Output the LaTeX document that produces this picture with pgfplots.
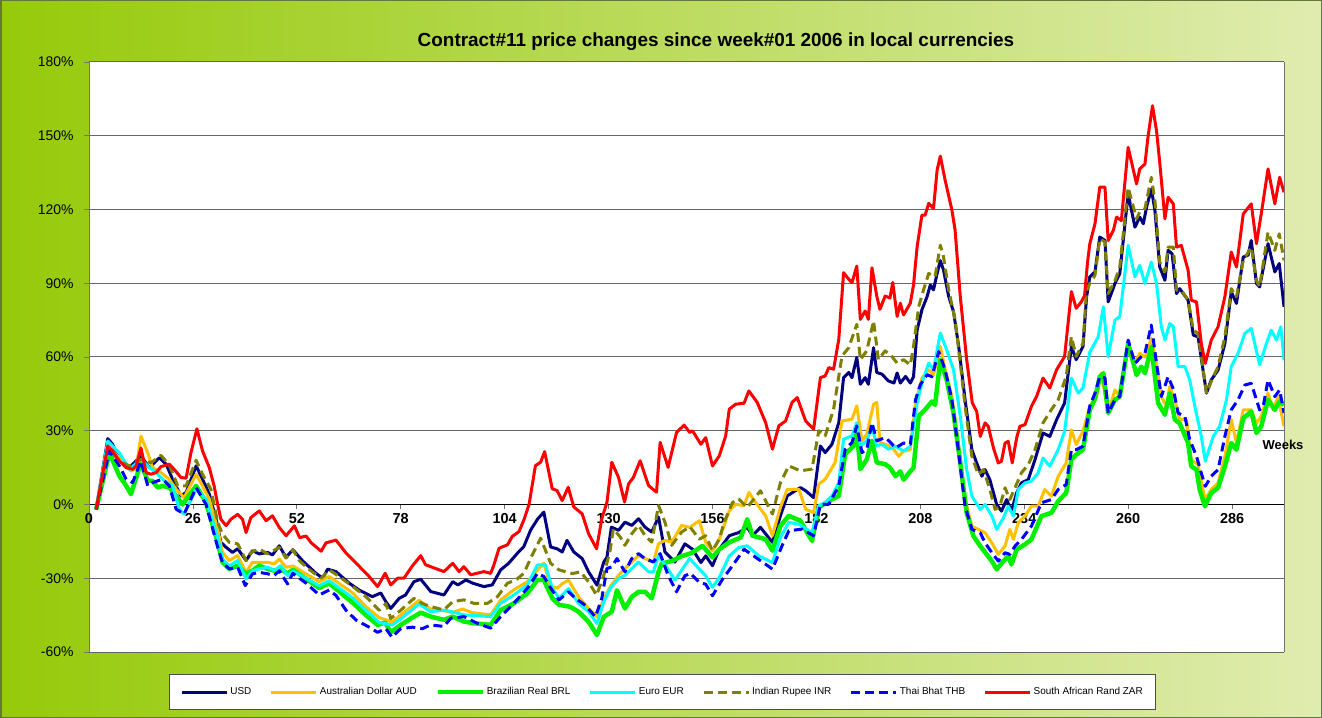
\documentclass[border=0pt]{standalone}
\usepackage{fontspec}
\setmainfont{Liberation Sans}
\usepackage{pgfplots}
\pgfplotsset{compat=1.18}
\definecolor{usd}{RGB}{0,0,128}
\definecolor{aud}{RGB}{255,192,0}
\definecolor{brl}{RGB}{0,240,0}
\definecolor{eur}{RGB}{0,255,255}
\definecolor{inr}{RGB}{128,128,0}
\definecolor{thb}{RGB}{0,0,255}
\definecolor{zar}{RGB}{255,0,0}
\definecolor{bgl}{RGB}{150,202,10}
\definecolor{bgr}{RGB}{224,236,176}
\definecolor{frame}{RGB}{100,120,60}
\begin{document}
\begin{tikzpicture}
\path[use as bounding box] (0,0) rectangle (1322bp,718bp);
\shade[left color=bgl, right color=bgr] (0,0) rectangle (1322bp,718bp);
\draw[frame, line width=1.5bp] (0.75bp,0.75bp) rectangle (1321.25bp,717.25bp);
\node[font=\bfseries\fontsize{19}{22}\selectfont] at (716bp,676bp) {Contract\#11 price changes since week\#01 2006 in local currencies};
\begin{axis}[
    at={(89bp,66bp)}, anchor=south west,
    width=1195bp, height=590bp, scale only axis,
    xmin=0, xmax=299, ymin=-60, ymax=180,
    axis x line=middle, axis y line=left,
    axis line style={-},
    x axis line style={black, line width=1.2bp},
    y axis line style={black!55, line width=1bp},
    hide obscured x ticks=false,
    xtick={0,26,...,286},
    xticklabels={0,26,52,78,104,130,156,182,208,234,260,286},
    ytick={-60,-30,...,180},
    yticklabels={-60\%,-30\%,0\%,30\%,60\%,90\%,120\%,150\%,180\%},
    xticklabel style={font=\bfseries\fontsize{14.5}{16}\selectfont},
    yticklabel style={font=\fontsize{14}{16}\selectfont, xshift=-7bp},
    xtick align=outside, ytick align=outside,
    major tick length=5bp,
    tick style={black!55, line width=0.8bp},
    ymajorgrids, grid style={draw=black!60, line width=1bp},
    axis background/.style={fill=white},
    no markers,
    every axis plot/.append style={line join=round, line width=3bp},
    legend columns=7,
    legend style={at={(0.48,-0.068)}, anchor=center, draw=black!70, line width=0.8bp,
        fill=white, font=\fontsize{10}{12}\selectfont, inner xsep=11bp, inner ysep=11bp,
        /tikz/every even column/.append style={column sep=16.5bp}},
    legend image code/.code={\draw[#1] (0bp,0bp) -- (45bp,0bp);},
]
\addplot[usd] coordinates {
(1.8,-2)(4.7,26.8)(5.9,24.5)(7.6,18.4)(10.1,15)(13,19.7)(15.1,15)(17.6,19)(19.3,16.4)(20.9,10.3)(23,3.5)(24.3,4.9)(26.8,15.7)(28.4,10.3)(30.1,4.2)(31.8,-6)(33,-15.4)(34.3,-17.4)(35.9,-19.5)(37.2,-18)(39.3,-22.8)(40.9,-18.8)(42.6,-20.1)(44.7,-19.5)(45.9,-20.5)(47.6,-16.8)(49.3,-21.5)(51,-18.4)(53.5,-23)(56.8,-28)(58.5,-30)(59.7,-26.3)(61.8,-27.3)(65.1,-32)(67.6,-34.8)(70.9,-37.5)(73,-36)(74.3,-39.6)(75.5,-42.3)(77.6,-38.2)(79.2,-36.8)(81.3,-31.4)(83,-30.4)(85.5,-35.4)(88.8,-36.8)(91,-31.4)(92.3,-32.7)(94.3,-30.7)(96,-32)(98.8,-33.4)(100.9,-32.7)(103,-26.6)(105,-23.9)(107.2,-19.8)(108.8,-17.1)(110.5,-10.4)(112.2,-6)(113.8,-3.1)(115.5,-17.3)(117.1,-18)(118.4,-19.3)(119.6,-14.6)(121.3,-19.3)(123.4,-22)(125,-27.4)(127.1,-32.8)(128.8,-23.4)(129.6,-21.4)(130.7,-9.2)(132.5,-10.5)(134.1,-7.2)(135.8,-8.5)(137.5,-5.8)(139.1,-9.2)(140.8,-11.2)(142.5,-5.1)(144.1,-19.3)(146.6,-23.4)(149.1,-16)(151,-18.2)(153.1,-23.6)(154.3,-20.9)(156,-24.9)(157.7,-18.2)(160.2,-12.7)(162.6,-11.4)(164.7,-9.3)(166,-12.7)(168,-9.3)(171,-15.4)(173,-4.6)(174.7,3.5)(178,6.9)(179.3,5.6)(181.3,2.8)(183,23.8)(184.2,21.1)(185.9,24.5)(187.6,33.3)(188.8,51.6)(190.1,53.7)(190.9,51.6)(192.1,59.8)(193,48.9)(194.2,51.6)(195,48.9)(196.3,63.8)(197.1,53.7)(198.4,53)(200,50.3)(201.4,49.4)(202.2,53.5)(203,49.4)(204.3,52.1)(205.5,49.4)(206.3,52)(207.2,71)(208.4,79.2)(209.7,84.6)(210.5,89.3)(211.3,87.3)(212.2,94)(213,99.2)(213.8,95.4)(215.1,84.6)(216.3,78.5)(217.6,64.3)(219.2,42.6)(220.9,22.3)(222.1,16.9)(223.4,11.5)(224.2,14.2)(225.4,10.1)(227.1,0)(228.3,-2.7)(229.6,2)(230.8,-2.7)(232.1,4.7)(233.3,8.8)(235,10.1)(236.7,18.3)(238.7,29.1)(240.4,27.7)(242.1,34.5)(244.1,41.3)(245.8,64.3)(247,58.9)(248.7,64.3)(249.6,84.5)(250.4,92.6)(251.7,94.6)(252.9,108.8)(254.2,107.4)(255,82.4)(256.7,89.9)(257.9,93.9)(260,126.4)(261.7,112.8)(262.9,116.9)(263.8,114.2)(264.6,120.9)(265.8,128.4)(266.7,119.6)(267.9,96.6)(269.2,91.2)(270,103.4)(271,102)(272.1,85.8)(272.9,87.8)(275,83.1)(276.3,68.9)(277.5,68.2)(279.6,45.3)(280.8,50.7)(282.5,54.7)(284.2,65.5)(285.8,86.5)(287.1,81.8)(288.8,100.7)(290,101.4)(290.8,107.4)(292.1,89.9)(292.9,88.5)(295,106.1)(296.7,94.6)(297.8,98)(299,80.4)
};
\addlegendentry{USD}
\addplot[aud] coordinates {
(1.8,-1.5)(4.7,23.8)(7.6,19)(10.5,13.6)(11.8,15)(13,27.8)(14.7,21)(15.9,15)(18,13)(20.1,10.3)(21.8,6.2)(23.8,2.8)(26.8,12.3)(28.4,7.6)(30.1,2.2)(32.2,-10)(33.4,-19.5)(35.1,-22.8)(37.2,-20.8)(39.3,-27.6)(40.9,-23.5)(42.6,-23.5)(44.7,-23.5)(46.3,-24.2)(47.6,-22.2)(49.3,-25.5)(51,-25)(57.6,-31.4)(60.1,-29.3)(66,-36)(69.3,-41.6)(72.6,-46)(75.9,-47.8)(78.4,-44.4)(82.6,-39)(85.5,-42.5)(88.4,-43)(90.9,-44)(93.4,-42.5)(95.9,-44)(100.5,-44.9)(103,-38.8)(106.3,-34.7)(109.7,-31.4)(112.2,-26.6)(113.8,-23.9)(115.5,-33.4)(117.2,-34)(118.4,-32.2)(120,-30.8)(122.5,-37.6)(125,-42.3)(127.1,-45.7)(128.8,-38.2)(130.4,-33.5)(132.5,-28.8)(134.1,-26)(135.8,-23.4)(137.5,-20.7)(139.1,-22)(141.2,-23.4)(142.5,-16)(144.1,-14.6)(145.8,-15.3)(148.3,-8.5)(150.3,-9.3)(152.7,-6.6)(154.3,-15.4)(156,-18.8)(157.7,-14.1)(160.2,-2.6)(161.8,0.1)(163.9,-0.5)(165.1,4.9)(166.8,0.8)(169.3,-4.6)(171,-12.7)(173,-1.2)(174.7,6.2)(177.6,6.2)(179.3,-1.9)(181.3,-3.3)(182.6,8.3)(184.2,10.3)(186.7,17.1)(188.4,34)(190.9,34.7)(192.1,40.1)(193.4,25.9)(194.6,28.6)(196.3,40.8)(197.1,41.5)(197.9,25.2)(200.4,23.8)(201.4,22.3)(202.6,19.6)(203.8,21.7)(205.5,22.3)(206.8,41.3)(208.4,51.4)(210.1,54.8)(211.3,52.8)(213,64.3)(214.2,54.8)(215.9,44)(217.6,23.7)(219.2,2)(220.9,-8.8)(222.5,-10.1)(224.2,-11.5)(225.9,-15.6)(227.5,-20.3)(229.2,-16.9)(230.4,-10.1)(231.3,-14.2)(232.5,-7.4)(234.2,-4.7)(235.8,-0.7)(237.5,-0.7)(239.1,6.1)(240.8,3.4)(242.5,11.5)(244.5,16.9)(245.8,30.4)(247,24.4)(248.7,29.8)(250.4,40)(252.1,43.9)(253.3,53.4)(255,37.2)(256.7,46.6)(257.9,44)(260,65.5)(261.7,57.4)(262.9,61.5)(264.2,60)(265.8,67.6)(267.1,57.4)(268.3,43.9)(269.6,39.9)(270.4,48)(271.7,42.6)(272.9,34.5)(274.6,34.5)(275.8,18.2)(277.5,16.2)(279.2,2)(280.8,6.1)(282.5,8.8)(284.2,19.6)(285.8,34.5)(287.1,25)(288.8,38.5)(290.8,38.5)(292.1,33.1)(293.3,35.8)(295,45.3)(296.3,38.5)(297.5,43.9)(299,31.8)
};
\addlegendentry{Australian Dollar AUD}
\addplot[brl, line width=4.5bp] coordinates {
(1.8,-2)(5.1,21)(7.6,11.6)(9.3,7.6)(10.5,4.2)(13,17)(14.7,9.6)(15.9,9.6)(17.2,6.9)(18.4,7.6)(20.1,6.9)(21.8,3.5)(23.4,0)(26.8,7.6)(29.3,0.8)(32.2,-15.4)(33.4,-23.5)(35.1,-26.2)(37.2,-24.9)(39.3,-28.2)(40.9,-26.9)(42.6,-24.9)(44.7,-26.2)(46.3,-26.9)(48,-26.2)(49.7,-28.2)(51,-26.5)(57.6,-34)(60.1,-32)(66,-40)(69.3,-45)(72.2,-49)(74.1,-48)(75.5,-52)(78,-49)(80.9,-46)(83,-44)(85.5,-45.6)(88.8,-46.9)(91,-45.6)(93.8,-47.6)(96.3,-48.3)(100.5,-49)(103,-42.9)(106.3,-40.2)(109.7,-36.1)(112.2,-30.7)(113.8,-30.7)(115.9,-38.1)(117.6,-40.8)(120.4,-41.6)(122.5,-43.6)(125,-47.7)(127.1,-53.1)(128.8,-45.7)(130.8,-43.6)(132.1,-34.9)(134.1,-42.3)(135.8,-37.6)(137.5,-35.5)(139.1,-35.5)(140.8,-38.2)(142.5,-27.4)(143.3,-24)(145.8,-23)(148.3,-21)(150.3,-20)(151,-19.5)(153.5,-16.8)(156,-21.5)(157.7,-18.2)(160.2,-15.4)(163.1,-13.4)(164.7,-6)(166,-12.7)(169.3,-14.1)(171,-18.8)(173,-8.7)(175.1,-4.6)(178,-6.6)(180.9,-14.8)(182.6,-1.2)(185.1,1.5)(187.6,3.5)(189.2,20.5)(191.3,23.8)(192.1,29.9)(193,14.4)(194.6,18.4)(195.9,25.9)(197.1,17.1)(199.2,16.4)(200.4,15)(201.8,11.5)(203,13.5)(203.8,10.1)(205.5,13.5)(206.3,14.9)(207.6,35.9)(209.2,38.6)(210.9,41.9)(211.7,40.5)(213,58.9)(214.6,50.7)(216.3,37.2)(218,16.9)(219.6,-3.4)(221.3,-12.9)(223,-16.9)(224.6,-20.3)(225.9,-23)(227.1,-26.4)(228.8,-23)(230,-21)(230.8,-24.4)(232.1,-18.3)(234.2,-16.2)(235.8,-14.2)(238.3,-4.7)(240.8,-3.4)(242.5,1.4)(244.5,4.7)(245.8,18.3)(247,20.3)(248.7,22.3)(250.4,38.5)(251.7,43)(252.9,52)(253.8,53.4)(255,37.2)(256.7,42.6)(257.9,43.9)(260,65.5)(262.1,52.7)(263.3,56.1)(264.2,53.4)(265.8,64.2)(267.5,41.2)(269.2,36.5)(270.4,45.3)(271.7,34.5)(272.9,33)(275,25)(275.8,15.5)(277.1,14.2)(277.9,6.1)(279.2,-0.7)(280.8,4.7)(282.5,6.8)(284.2,15.5)(285.8,25)(287.1,22.3)(288.8,35.1)(290.8,37.8)(292.1,29.1)(293.3,31.8)(295,42.6)(296.7,38.5)(297.9,41.9)(299,40.5)
};
\addlegendentry{Brazilian Real BRL}
\addplot[eur] coordinates {
(1.8,-2)(4.7,25.8)(7.6,21)(10.1,14.3)(13,18.4)(15.1,15)(16.8,13)(18.4,10.3)(20.9,7.6)(22.6,-1.9)(23.8,-3.9)(26.8,6.2)(29.3,2.2)(32.2,-13.4)(33.4,-22.2)(35.1,-24.9)(37.2,-22.8)(39.3,-30.3)(40.9,-26.9)(42.6,-26.2)(44.7,-25.5)(46.3,-26.9)(48,-24.9)(49.7,-28.9)(51,-27)(57.6,-33)(60.1,-31)(66,-38)(69.3,-43)(72.6,-48)(75.9,-49)(78.4,-46)(82.6,-40.5)(85.5,-43.6)(88.8,-43)(90.5,-43.5)(93.8,-44.9)(100.5,-45.6)(103,-40.2)(106.3,-36.8)(109.7,-32.7)(112.2,-24.6)(114.2,-24.6)(115.9,-34)(117.6,-38.1)(120,-34.2)(122.5,-40.3)(125,-43.6)(127.1,-48.4)(128.8,-39.6)(130.4,-34.2)(132.5,-30.1)(134.1,-28.8)(135.8,-26.1)(137.5,-23.4)(140,-27.4)(141.2,-27.4)(142.5,-20.7)(144.5,-25.4)(146.6,-30.8)(149.1,-24.7)(150.3,-22)(152.7,-26.3)(154.3,-29)(156,-33.7)(157.7,-29.7)(160.2,-20.9)(162.6,-17.5)(164.7,-16.8)(167.6,-20.9)(171,-23.6)(173,-13.4)(175.1,-7.3)(177.6,-8)(180.9,-11.4)(182.6,-0.5)(184.2,0.8)(185.9,3.5)(187.6,8.9)(188.8,26.6)(190.9,27.9)(192.1,33.3)(193,23.8)(194.6,25.9)(195.9,32)(197.1,23.8)(198.4,24.5)(200,22.5)(201.8,23.7)(203.8,21.7)(205.5,23.7)(207.2,41.3)(208.4,49.4)(210.1,57.5)(211.3,54.8)(213,69.7)(214.6,62.9)(216.3,54.8)(218,35.9)(219.6,14.2)(220.9,3.4)(223,-2)(224.2,0)(225.9,-4.7)(227.1,-10.1)(228.8,-5.4)(230,-0.7)(231.3,-4.7)(232.5,6.1)(234.2,8.8)(235.8,9.5)(237.5,12.9)(238.7,18.9)(240.4,15.6)(242.5,22.3)(244.1,29.8)(245.8,51.4)(247.5,45.3)(248.7,47.4)(250.4,62)(251.2,64.2)(252.5,68.2)(253.8,80.4)(255,60.1)(256.7,75)(257.9,76.4)(260,105.4)(261.7,92.6)(262.9,97.3)(264.2,89.9)(265.8,98.6)(267.1,89.9)(268.3,72.3)(269.2,66.9)(270.4,73.6)(271.3,72.3)(272.5,56.1)(274.2,56.1)(275.4,50.7)(276.7,39.9)(278.3,27.7)(279.3,17.6)(281.3,27.7)(282.9,31.8)(284.6,42.6)(285.8,56.1)(287.5,61.5)(289.2,69.6)(290.8,71.6)(292.9,56.8)(294.6,65.5)(295.8,70.9)(297.1,66.9)(298.2,72.3)(299,58.8)
};
\addlegendentry{Euro EUR}
\addplot[inr, dash pattern=on 9bp off 5bp] coordinates {
(1.8,-2)(4.7,23)(7.6,17.7)(10.1,15.7)(13,18.4)(15.5,17)(18,20)(20.1,16)(22.2,7.6)(24.3,7.6)(26.8,18)(28.4,12.3)(30.5,6.2)(32.2,-7.3)(33.4,-12)(35.1,-15.4)(37.2,-16)(39.3,-22.8)(40.5,-19.5)(42.6,-18.1)(44.7,-20.1)(45.9,-19)(47.6,-17.4)(49.3,-21.8)(51,-18.4)(52.7,-23)(55.2,-26.6)(58.1,-30)(60.1,-26.6)(62.6,-29.3)(66,-33.4)(69.3,-37.5)(72.6,-43)(74.3,-40.3)(75.5,-46.4)(78,-43)(81.3,-38.2)(83.4,-40.3)(85.5,-41.5)(88.8,-42.9)(91,-39.5)(93.8,-38.8)(96.3,-40.2)(99.7,-40.2)(102.2,-37.5)(104.7,-32)(106.8,-30.7)(108.8,-28)(110.5,-21.9)(113,-13.7)(115.5,-23.9)(117.6,-26.6)(120.9,-28.1)(123,-27.4)(125,-31.5)(127,-36.9)(128.8,-28.8)(130.4,-18.6)(131.2,-9.9)(132.9,-13.2)(134.1,-16.6)(135.8,-11.9)(137.5,-8.5)(139.1,-12.6)(140.8,-15.3)(142.5,-0.4)(144.1,-7.2)(145.8,-16.6)(148.3,-11.2)(150.3,-9)(152.7,-14.1)(154.3,-12.7)(156,-18.8)(157.7,-14.1)(158.9,-7.3)(161,0.8)(162.6,2.2)(164.7,-1.2)(168,5.6)(171,-3.9)(173,8.9)(175.1,15.7)(178,13.7)(180.9,14.4)(182.6,30)(184.2,27.9)(186.3,38.8)(188.4,60.4)(190.1,63.8)(192.1,73.3)(193,59)(194.6,62.5)(196.3,74.7)(197.5,59)(199.2,62.5)(200.9,60.2)(202.2,57.5)(203.8,58.9)(205.5,56.8)(206.3,64.3)(207.6,80.5)(208.8,87.3)(210.1,94)(211.7,92.7)(213,105.5)(213.8,100.8)(215.1,87.3)(216.7,75.1)(218,57.5)(219.2,39.9)(220.9,19.6)(222.5,12.2)(223.8,14.2)(225.4,6.1)(226.7,-2)(227.9,-0.7)(229.2,6.8)(230.4,2)(231.7,6.8)(233.3,12.9)(235,16.2)(236.7,22.3)(238.7,33.2)(240.8,38.6)(242.5,42.6)(244.5,52.1)(245.8,68.3)(247,60.2)(248.7,65.6)(249.6,87)(250.4,89.9)(251.7,93.2)(252.9,108.1)(254.2,106.8)(255,85.8)(256.7,91)(257.9,96.6)(260,129)(262.1,116.2)(262.9,119)(264.2,120.3)(265.8,133.1)(266.7,123.6)(267.9,98.6)(269.2,94.6)(270,104.7)(271.3,104.7)(272.1,87.2)(273.3,87.2)(275,83.1)(276.3,70.9)(277.5,69.6)(279.6,45.3)(281.3,52)(282.5,56.1)(284.2,68.2)(285.8,87.8)(287.1,84.5)(288.8,99.3)(290.8,104.7)(292.1,91.2)(292.9,88.5)(295,110.8)(296.7,103.4)(297.8,110.1)(299,99.3)
};
\addlegendentry{Indian Rupee INR}
\addplot[thb, dash pattern=on 9bp off 5bp] coordinates {
(1.8,-2)(5.1,21.8)(7.6,15.7)(9.3,10.3)(10.9,8.9)(13,17.7)(14.7,7.6)(15.9,8.9)(18.4,10.3)(20.1,7.6)(21.8,-1.9)(23.8,-3.9)(26.8,6.9)(29.3,0)(32.2,-17.4)(33.4,-23.5)(35.1,-26.2)(37.2,-25.5)(39.1,-33)(40.9,-28.2)(42.6,-27.6)(44.7,-28.2)(46.3,-28.9)(47.6,-27)(49.7,-32.3)(51,-28)(54.3,-32)(57.6,-36.8)(60.1,-34.8)(61.8,-37)(64.3,-43)(66.8,-47)(70.1,-49.9)(72.2,-52)(74.3,-50.5)(75.8,-54)(78,-50.5)(80.9,-49.9)(83.4,-50.5)(85.5,-49)(88.8,-49.6)(90.5,-46.3)(93.8,-45.6)(97.1,-48.3)(100.5,-50.3)(103,-45.6)(106.3,-40.2)(109.7,-34)(112.2,-28)(113.8,-29.3)(115.5,-34)(117.6,-38.8)(120,-35.5)(121.7,-38.2)(124.2,-41)(126.7,-45.7)(128.3,-38.2)(129.6,-26)(130.8,-25.4)(132.1,-22)(134.1,-27.4)(135.8,-22)(137.5,-20)(139.1,-22)(141.2,-23.4)(142.9,-20)(144.9,-28.8)(147,-35.5)(149.1,-29)(150.5,-28)(152.7,-31.7)(154.3,-32.4)(156,-37.1)(158.5,-30.4)(161,-24.9)(163.9,-18.2)(166.8,-21.5)(169.3,-24.3)(171,-26.3)(173.4,-16.8)(175.1,-10.7)(178.4,-10)(181.3,-12.7)(183,0.1)(185.1,0.1)(187.6,7.6)(189.2,22.5)(190.9,25.2)(192.1,32)(193.4,21.1)(194.6,22.5)(195.9,33.3)(197.1,25.9)(199.2,27.2)(200.4,25.5)(201.8,23)(203.8,25)(205.5,24.5)(206.8,42.6)(208,48.7)(209.7,52.8)(210.9,52)(212.6,62.2)(214.2,54.8)(215.9,42.6)(217.6,21)(219.2,-0.7)(220.9,-10.1)(223,-11.5)(224.2,-15.6)(225.9,-19.6)(227.5,-23)(229.2,-19.6)(230.4,-20.3)(231.7,-16.9)(233.3,-14.2)(235.8,-8.8)(238.3,0.7)(240.8,2)(242.5,6.1)(244.5,8.1)(245.8,22.3)(247,22.3)(248.7,23.7)(250.4,40)(251.7,45.3)(252.9,52)(254.2,51.5)(255,37.2)(256.7,42.6)(257.9,44)(260,66.9)(261.7,57.4)(262.9,59.5)(264.2,61.5)(265.8,73)(267.1,57.4)(268.3,43.9)(270,52)(271.3,47)(272.5,37.2)(274.2,35.8)(275.4,26.4)(277.1,19.6)(278.3,12.8)(279.3,7.4)(280.8,11.5)(282.5,14.2)(284.2,27.7)(285.8,38.5)(287.5,42.6)(289.2,48.6)(290.8,49.3)(292.9,38.5)(293.8,40)(295,50.7)(296.7,43.9)(297.9,46.6)(299,37.2)
};
\addlegendentry{Thai Bhat THB}
\addplot[zar] coordinates {
(1.8,-2)(4.7,23.8)(5.9,21.8)(7.6,17.7)(9.3,15)(10.9,14.3)(11.8,15.7)(13,23)(14.3,13)(15.5,12.3)(16.8,13)(18,15.4)(20.1,16.4)(21.3,14.3)(23,11)(24.3,10.7)(25.5,21)(27,30.8)(28.4,21.8)(30.1,15)(31.3,7.6)(32.2,0)(33,-6)(34.3,-8.6)(35.5,-6)(37.2,-4)(38.4,-6)(39.3,-11.4)(40.5,-5.3)(42.6,-2.6)(44.3,-6.6)(45.9,-4.6)(47.6,-9.3)(49.3,-12.7)(51.4,-8.7)(52.7,-13.5)(54.3,-12.8)(55.6,-15.6)(58.1,-19)(59.3,-15.6)(61.8,-14.5)(64.3,-19.7)(66.8,-23.8)(70.1,-29.3)(72.2,-33.4)(74.1,-28)(75.5,-32.7)(77.2,-30)(78.8,-30)(80.9,-25)(83,-20.8)(84.2,-24.5)(85.5,-25.3)(88.8,-27.3)(91,-23.9)(92.6,-27.3)(93.8,-25.3)(95.5,-28.6)(98.8,-27.3)(100.5,-28)(101.3,-24.6)(102.6,-17.8)(104.7,-16.4)(105.9,-13)(107.6,-11)(108.8,-6.3)(110.1,0)(111.7,15.8)(113,17.2)(114,21.5)(115.9,6.4)(117.1,5.7)(118.4,1.6)(119.9,7)(121.3,-1)(123.4,-3.8)(125,-11.9)(127,-18)(128.3,-5.8)(129.6,0.9)(130.8,17.2)(132.5,11)(134,1)(135,8.4)(136.2,11)(137.9,17.8)(140,7.7)(142,5)(142.9,25.3)(144.9,15.1)(147,29.3)(148.9,32.3)(150.3,29.3)(151,30)(153.1,24.5)(154.3,27.2)(156,15.7)(157.7,19.8)(159.3,27.9)(160.2,38.8)(161.8,40.8)(163.9,41.2)(165.1,46.2)(167.2,41.5)(169.3,33.3)(171,22.5)(172.6,32)(174.3,34)(175.9,41.5)(177.2,43.5)(179.3,34)(181.3,30.6)(183,51.6)(184.2,52.3)(185.1,55.7)(186.3,55)(187.6,67.2)(188.8,94.3)(190.1,91.6)(190.9,90.2)(192.1,97)(193,75.3)(194.2,78.7)(195,75.3)(195.9,96.3)(197.1,84.8)(197.9,79.4)(199.2,84.8)(200.4,84)(201.1,90.3)(202.2,76.5)(203,81.9)(203.8,77.1)(205.5,81.9)(206.3,89.3)(207.2,104.9)(208.4,117.7)(209.2,117.7)(210.1,122.5)(211.3,120.4)(212.2,136)(213,141.7)(214.2,132)(215.9,119.8)(216.7,111.6)(218,84.6)(219.6,58.9)(221,41.3)(222.1,37.9)(223,27.7)(224.2,33.2)(225,31.8)(226.3,23)(227.5,16.9)(228.3,17.6)(229.2,25)(230,25.7)(231,16.9)(232.1,27.1)(232.9,31.8)(234.2,32.5)(235.8,39.9)(237.1,44)(238.7,51.4)(240.4,47.4)(242.1,54.8)(244.1,60.2)(245.8,86.6)(247,79.8)(248.3,82.5)(249.1,85)(249.8,98)(250.4,106)(251.7,114.2)(252.9,129.1)(254.2,129.1)(255,107.4)(256.3,111.5)(257.1,116.9)(258.3,115.5)(260,145.3)(262.1,130.4)(262.9,136.5)(264.2,138.5)(265,150)(266.1,162.2)(267.1,152)(267.9,139.2)(269.2,116.2)(270,125)(271.3,122.3)(272.1,104.7)(273.3,105.4)(275,95.3)(275.8,83.1)(277.1,82.4)(278.3,65.5)(279.3,57.4)(280.8,66.9)(282.5,72.3)(284.2,84.5)(285.8,102.7)(287.1,96.6)(288.8,118.2)(290.8,122.3)(292.1,106.1)(293.3,118.2)(295,136.5)(296.7,122.3)(297.9,133.1)(299,127)
};
\addlegendentry{South African Rand ZAR}
\end{axis}
\draw[black!55, line width=1bp] (1284bp,66bp) -- (1284bp,656bp);
\node[font=\bfseries\fontsize{13}{15}\selectfont] at (1283bp,273bp) {Weeks};
\end{tikzpicture}
\end{document}
